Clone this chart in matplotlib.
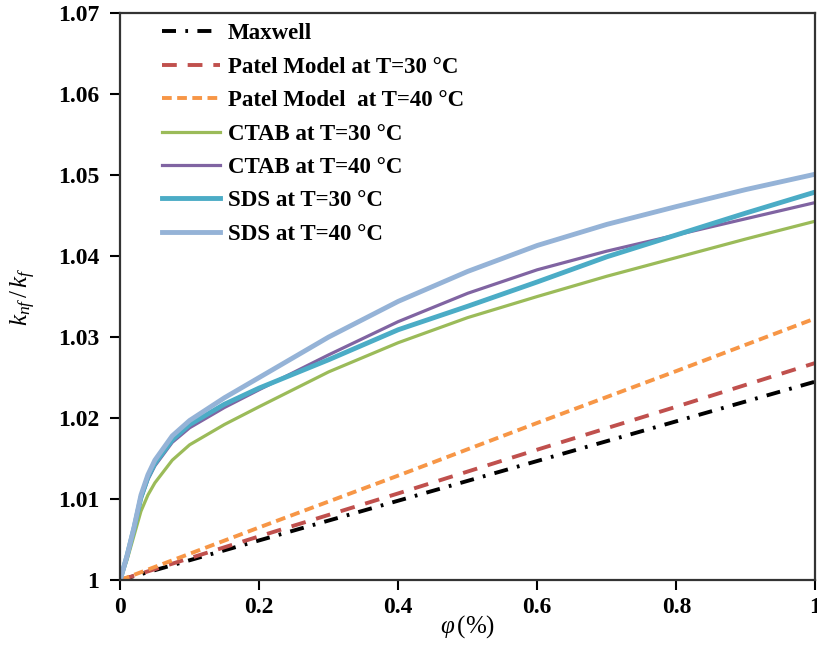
import matplotlib
matplotlib.use("Agg")
import matplotlib.pyplot as plt
from matplotlib.ticker import FuncFormatter

plt.rcParams['font.family'] = ['Liberation Serif', 'DejaVu Serif']
plt.rcParams['mathtext.fontset'] = 'custom'
plt.rcParams['mathtext.it'] = 'Liberation Serif:italic'
plt.rcParams['mathtext.rm'] = 'Liberation Serif'

phi = [0, 0.01, 0.02, 0.03, 0.04, 0.05, 0.075, 0.1, 0.15, 0.2, 0.3, 0.4, 0.5, 0.6, 0.7, 0.8, 0.9, 1.0]
sds40 = [1.0, 1.003, 1.0065, 1.0105, 1.0130, 1.0148, 1.0178, 1.0197, 1.0225, 1.0250, 1.0300, 1.0344, 1.0381, 1.0413, 1.0439, 1.0461, 1.0482, 1.0501]
ctab40 = [1.0, 1.003, 1.0063, 1.0100, 1.0124, 1.0141, 1.0170, 1.0188, 1.0213, 1.0235, 1.0278, 1.0319, 1.0354, 1.0383, 1.0406, 1.0426, 1.0446, 1.0466]
sds30 = [1.0, 1.003, 1.0064, 1.0102, 1.0127, 1.0144, 1.0173, 1.0192, 1.0217, 1.0237, 1.0272, 1.0309, 1.0338, 1.0368, 1.0399, 1.0426, 1.0453, 1.0479]
ctab30 = [1.0, 1.0025, 1.0055, 1.0085, 1.0105, 1.0120, 1.0148, 1.0167, 1.0192, 1.0214, 1.0257, 1.0293, 1.0324, 1.0350, 1.0375, 1.0398, 1.0421, 1.0443]

phi_lin = [0, 0.2, 0.4, 0.6, 0.8, 1.0]
maxwell = [1.0, 1.0049, 1.0098, 1.0147, 1.0196, 1.0245]
patel30 = [1.0, 1.0054, 1.0107, 1.0161, 1.0214, 1.0268]
patel40 = [1.0, 1.0065, 1.0129, 1.0194, 1.0258, 1.0323]

labels = ['Maxwell', 'Patel Model at T=30 °C', 'Patel Model  at T=40 °C',
          'CTAB at T=30 °C', 'CTAB at T=40 °C', 'SDS at T=30 °C', 'SDS at T=40 °C']
x_ticks = [0, 0.2, 0.4, 0.6, 0.8, 1.0]
y_ticks = [1.0, 1.01, 1.02, 1.03, 1.04, 1.05, 1.06, 1.07]

fig = plt.figure(figsize=(8.17, 6.46), dpi=100)
ax = fig.add_axes([0.147, 0.102, 0.851, 0.878])

ax.plot(phi_lin, maxwell, color='black', lw=2.8, linestyle=(0, (3.6, 2.4, 0.7, 2.4)), label=labels[0])
ax.plot(phi_lin, patel30, color='#C0504D', lw=2.8, linestyle=(0, (3.8, 2.8)), label=labels[1])
ax.plot(phi_lin, patel40, color='#F79646', lw=2.8, linestyle=(0, (2.5, 1.4)), label=labels[2])
ax.plot(phi, ctab30, color='#9BBB59', lw=2.3, label=labels[3])
ax.plot(phi, ctab40, color='#8064A2', lw=2.3, label=labels[4])
ax.plot(phi, sds30, color='#4BACC6', lw=3.5, label=labels[5])
ax.plot(phi, sds40, color='#95B3D7', lw=3.5, label=labels[6])

ax.set_xlim(0, 1)
ax.set_ylim(1.0, 1.07)
ax.set_xticks(x_ticks)
ax.set_yticks(y_ticks)
fmt = FuncFormatter(lambda v, p: ('%g' % round(v, 4)))
ax.xaxis.set_major_formatter(fmt)
ax.yaxis.set_major_formatter(fmt)
ax.tick_params(direction='out', length=7, width=1.5, labelsize=17)
ax.tick_params(axis='y', pad=8)
ax.tick_params(axis='x', pad=5)
for lab in ax.get_xticklabels() + ax.get_yticklabels():
    lab.set_fontweight('bold')
for s in ax.spines.values():
    s.set_linewidth(1.6)
    s.set_color('#333333')

ax.set_xlabel(r'$\varphi\,(\%)$', fontsize=18, labelpad=-3)
ax.set_ylabel(r'$k_{nf}\,/\,k_f$', fontsize=18, labelpad=14)

leg = ax.legend(loc='upper left', bbox_to_anchor=(0.031, 1.018), frameon=False,
                prop={'weight': 'bold', 'size': 16.5}, handlelength=2.5,
                handletextpad=0.35, labelspacing=0.54)

fig.savefig('out.png', dpi=100)
